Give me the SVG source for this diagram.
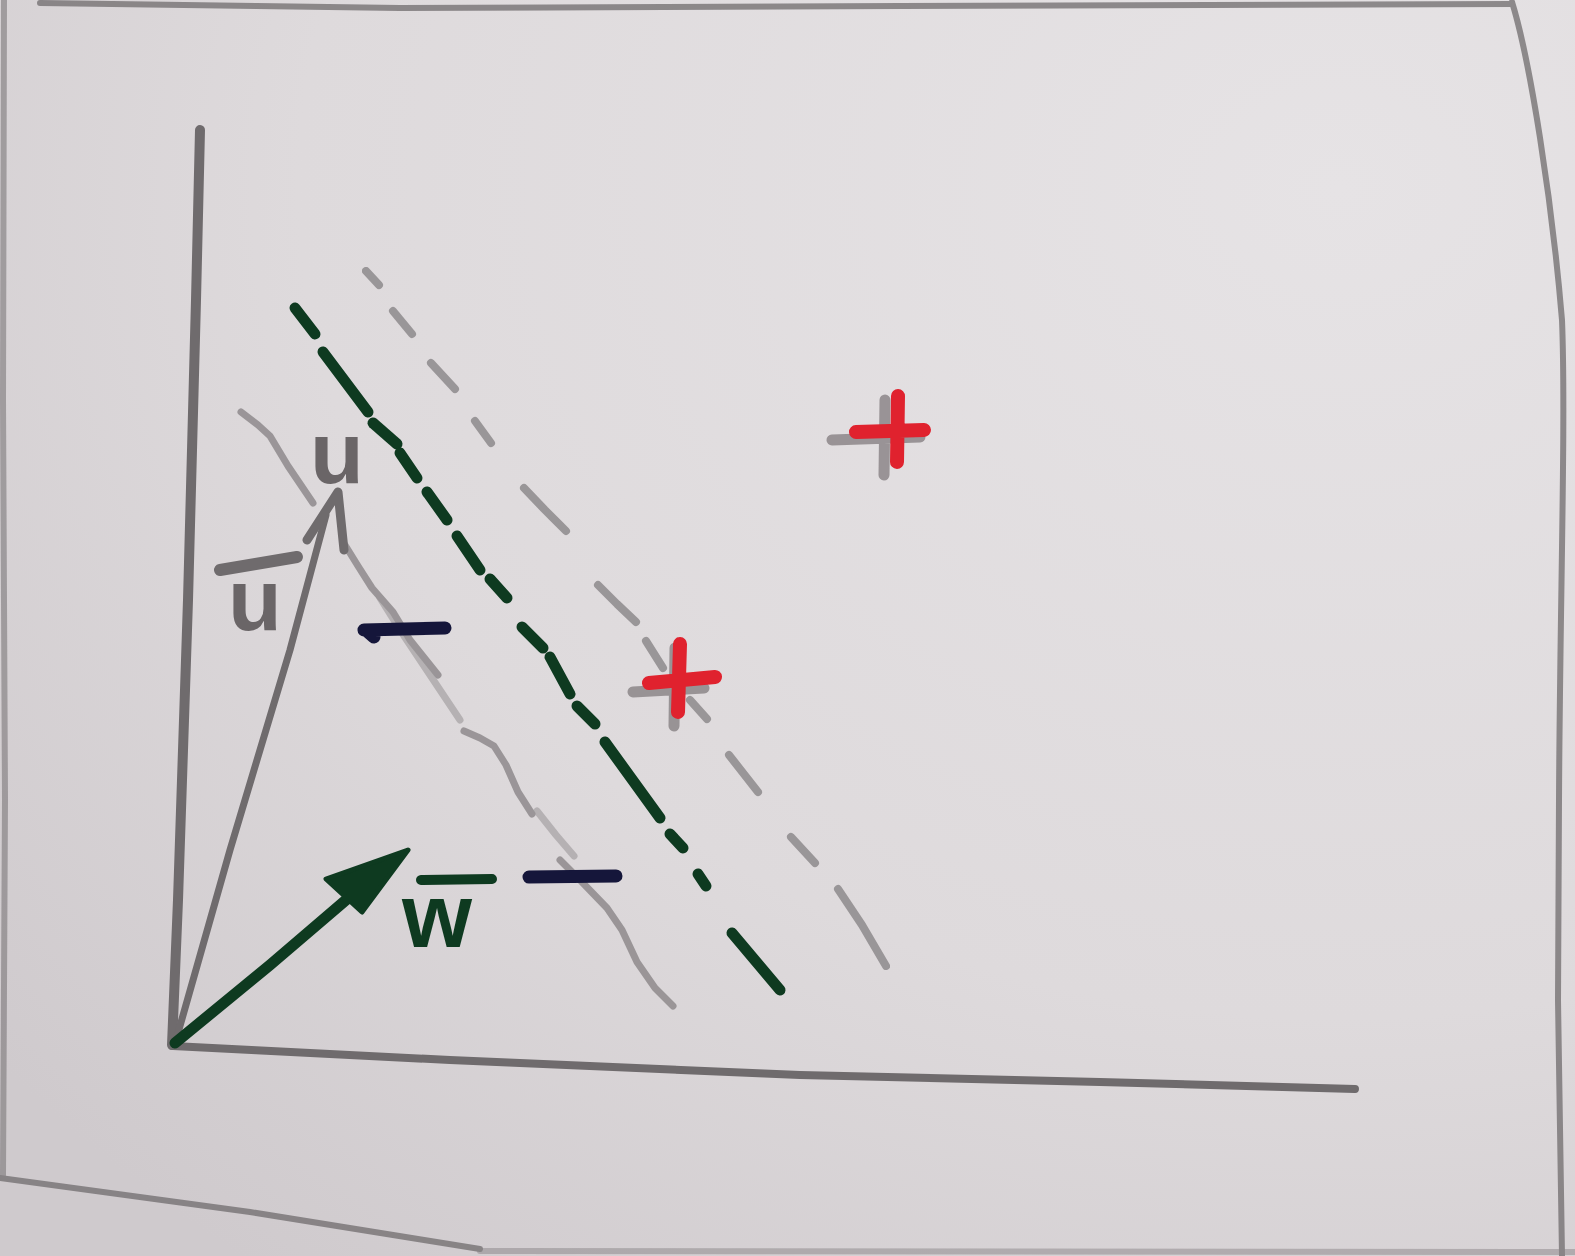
<svg xmlns="http://www.w3.org/2000/svg" width="1575" height="1256" viewBox="0 0 1575 1256">
  <defs>
    <radialGradient id="paperGrad" cx="0.85" cy="0.15" r="1.1">
      <stop offset="0" stop-color="#e6e3e5"/>
      <stop offset="0.6" stop-color="#dedadc"/>
      <stop offset="1" stop-color="#cfcacd"/>
    </radialGradient>
    <style>
      .pencil { fill: none; stroke: #6f6b6d; stroke-linecap: round; stroke-linejoin: round; }
      .pencil-light { fill: none; stroke: #8e8a8c; stroke-linecap: round; stroke-linejoin: round; opacity: 0.85; }
      .green { fill: none; stroke: #0e3a20; stroke-linecap: round; stroke-linejoin: round; }
      .navy { fill: none; stroke: #15163a; stroke-width: 13; stroke-linecap: round; }
      .red { fill: none; stroke: #e0222e; stroke-width: 14; stroke-linecap: round; }
      .plus-pencil { fill: none; stroke: #8c8688; stroke-width: 11; stroke-linecap: round; opacity: 0.85; }
      .lbl { font-family: "Liberation Sans", Arial, sans-serif; font-weight: bold; text-anchor: middle; }
    </style>
  </defs>

  <!-- paper -->
  <rect x="0" y="0" width="1575" height="1256" fill="url(#paperGrad)"/>
  <g id="paper-edges" class="pencil" stroke-width="6" opacity="0.75">
    <path d="M40,3 L400,8 L900,6 L1512,4"/>
    <path d="M4,0 L3,400 L5,800 L3,1175" opacity="0.7"/>
    <path d="M1512,2 C1530,60 1552,200 1562,320 C1566,420 1560,600 1559,800 L1558,1000 L1562,1256"/>
    <path d="M0,1178 L250,1212 L480,1249"/>
    <path d="M480,1251 L1575,1252" opacity="0.5"/>
  </g>

  <!-- axes -->
  <g id="axes" class="pencil" stroke-width="10">
    <path d="M200,130 L196,300 L188,600 L178,900 L172,1045"/>
    <path d="M173,1046 L450,1060 L800,1075 L1100,1082 L1355,1089" stroke-width="8"/>
  </g>

  <g id="connectors">
    <!-- lower margin (solid wavy pencil) -->
    <g id="margin-lower" class="pencil-light" stroke-width="7">
      <path d="M241,412 L258,425 L270,436 L288,466 L313,503"/>
      <path d="M345,545 L358,566 L372,588 L393,612 L410,640 L438,675"/>
      <path d="M380,598 L400,630 L420,660 L460,720" opacity="0.6"/>
      <path d="M464,731 L480,738 L494,746 L506,765 L518,792 L532,814"/>
      <path d="M537,811 L556,835 L574,856" opacity="0.6"/>
      <path d="M560,860 L580,880 L607,908 L622,930 L637,962 L655,988 L673,1006"/>
    </g>

    <!-- upper margin (gray dashes) -->
    <g id="margin-upper" class="pencil-light" stroke-width="8">
      <path d="M366,271 L379,285"/>
      <path d="M393,311 L412,334"/>
      <path d="M431,363 L455,389"/>
      <path d="M475,421 L491,443"/>
      <path d="M524,488 L545,510 L566,531"/>
      <path d="M598,585 L617,604 L636,622"/>
      <path d="M646,641 L663,668"/>
      <path d="M690,700 L707,719"/>
      <path d="M729,755 L758,792"/>
      <path d="M791,837 L815,863"/>
      <path d="M838,889 L862,925 L886,966"/>
    </g>

    <!-- decision boundary (green dashes) -->
    <g id="boundary" class="green" stroke-width="11">
      <path d="M295,308 L315,334"/>
      <path d="M323,352 L368,412"/>
      <path d="M373,423 L397,444"/>
      <path d="M400,453 L417,478"/>
      <path d="M427,492 L447,520"/>
      <path d="M457,536 L480,570"/>
      <path d="M490,579 L507,598"/>
      <path d="M522,627 L543,648"/>
      <path d="M550,657 L570,694"/>
      <path d="M577,706 L595,724"/>
      <path d="M605,742 L660,818"/>
      <path d="M670,834 L683,848"/>
      <path d="M698,874 L706,886"/>
      <path d="M732,933 L780,990"/>
    </g>

    <!-- vector u -->
    <g id="vector-u">
      <path class="pencil" stroke-width="7" d="M176,1040 L230,850 L290,650 L326,515"/>
      <path class="pencil" stroke-width="9" fill="#807a7c" d="M307,540 L338,492 L344,550"/>
    </g>

    <!-- vector w -->
    <g id="vector-w">
      <path class="green" stroke-width="11" d="M175,1043 L270,965 L360,888"/>
      <path fill="#0e3a20" stroke="#0e3a20" stroke-width="5" stroke-linejoin="round" d="M408,850 L326,879 L362,912 Z"/>
    </g>
  </g>

  <!-- positive samples -->
  <g id="plus-1">
    <path class="plus-pencil" d="M885,400 L884,475 M832,440 L920,437"/>
    <path class="red" d="M898,396 L897,462 M856,432 L924,430"/>
  </g>
  <g id="plus-2">
    <path class="plus-pencil" d="M675,648 L674,726 M633,692 L704,688"/>
    <path class="red" d="M680,644 L678,712 M649,683 L715,677"/>
  </g>

  <!-- negative samples -->
  <g id="minus-1">
    <path class="navy" d="M364,630 L445,628 M366,630 L374,637"/>
  </g>
  <g id="minus-2">
    <path class="navy" d="M529,877 L616,876"/>
  </g>

  <!-- labels -->
  <g id="label-u-tip">
    <text class="lbl" x="337" y="483" font-size="88" fill="#6a6567">u</text>
  </g>
  <g id="label-u-bar">
    <path class="pencil" stroke-width="12" d="M220,570 L297,557"/>
    <text class="lbl" x="255" y="630" font-size="88" fill="#6a6567">u</text>
  </g>
  <g id="label-w-bar">
    <path class="green" stroke-width="10" d="M421,880 L492,879"/>
    <text class="lbl" x="437" y="947" font-size="90" fill="#0e3a20">w</text>
  </g>
</svg>
